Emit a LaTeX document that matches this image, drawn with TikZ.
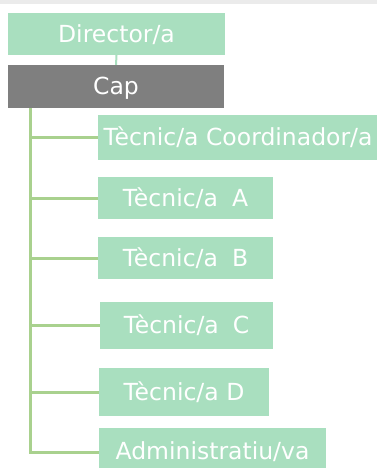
\documentclass[tikz,border=0pt]{standalone}
\usepackage{fontspec}
\setmainfont{DejaVu Sans}
\definecolor{boxgreen}{HTML}{A9DFBF}
\definecolor{linegreen}{HTML}{A9D18E}
\definecolor{capgray}{HTML}{7F7F7F}
\definecolor{stripgray}{HTML}{EBEBEB}
\tikzset{
  orgbox/.style={fill=boxgreen, draw=none, text=white, inner sep=0pt,
    text height=17pt, text depth=0pt, font=\fontsize{23.5}{28}\selectfont},
  capbox/.style={orgbox, fill=capgray},
  conn/.style={draw=linegreen, line width=3pt},
  dconn/.style={draw=boxgreen, line width=2pt},
}
\begin{document}
\begin{tikzpicture}[x=1pt,y=-1pt]
\useasboundingbox (0,0) rectangle (377,468);
\fill[stripgray] (0,0) rectangle (377,4);
\node[orgbox, minimum width=217pt, minimum height=42pt] (dir) at (116.5,34) {Director/a};
\node[capbox, minimum width=216pt, minimum height=43pt] (cap) at (116,86.5) {Cap};
\node[orgbox, minimum width=280pt, minimum height=45pt] (coord) at (238,137.5) {Tècnic/a Coordinador/a};
\node[orgbox, minimum width=175pt, minimum height=42pt] (ta) at (185.5,198) {Tècnic/a\hspace{14pt}A};
\node[orgbox, minimum width=175pt, minimum height=42pt] (tb) at (185.5,258) {Tècnic/a\hspace{14pt}B};
\node[orgbox, minimum width=173pt, minimum height=47pt] (tc) at (186.5,325.3) {Tècnic/a\hspace{14pt}C};
\node[orgbox, minimum width=170pt, minimum height=48pt] (td) at (184,392) {Tècnic/a D};
\node[orgbox, minimum width=227pt, minimum height=46pt] (adm) at (212.5,451) {Administratiu/va};
\coordinate (spine) at ([xshift=22.5pt]cap.south west);
\draw[dconn] (dir.south) -- (cap.north);
\draw[conn] (spine) |- ([yshift=-1pt]adm.west);
\foreach \n in {coord,ta,tb,tc,td}{
  \draw[conn] (spine |- \n.west) -- (\n.west);
}
\end{tikzpicture}
\end{document}
